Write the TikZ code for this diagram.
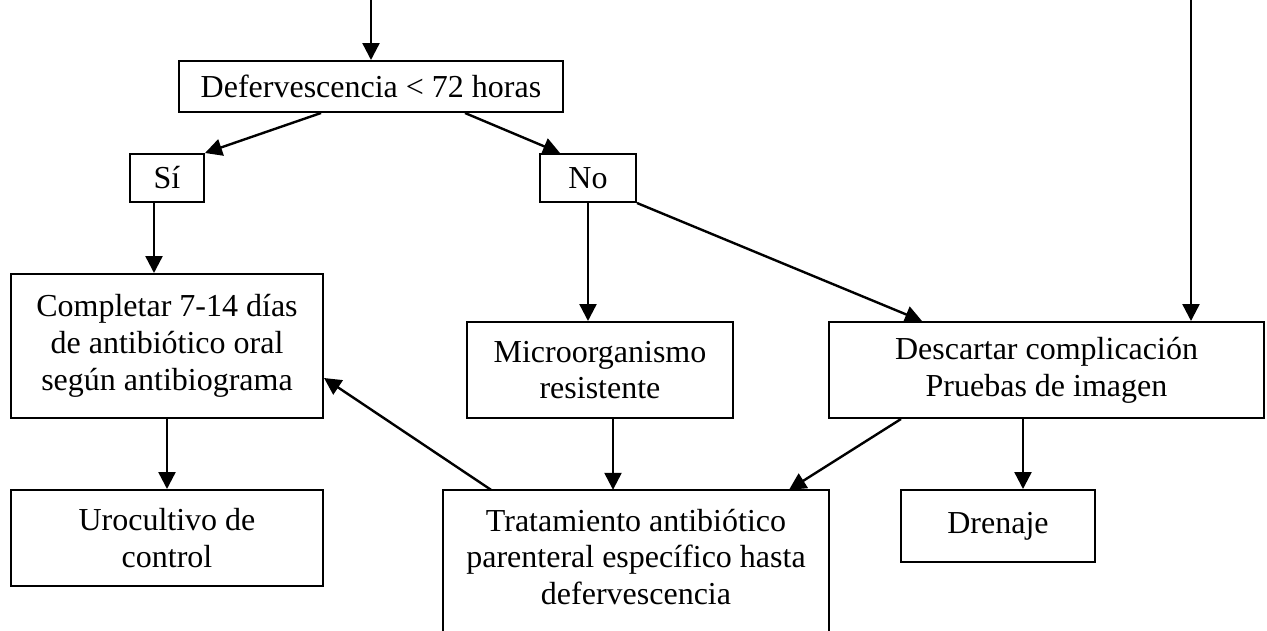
\documentclass[tikz,border=0pt]{standalone}
\usepackage{fontspec}
\setmainfont{Liberation Serif}
\usepackage{tikz}
\usetikzlibrary{arrows.meta,positioning}

\begin{document}
\begin{tikzpicture}[x=1pt,y=-1pt,
    font=\fontsize{32}{36.8}\selectfont,
    box/.style={draw,line width=2pt,inner sep=0pt,align=center},
    arr/.style={-{Triangle[length=17pt,width=17pt]},line width=2.4pt}]
        \useasboundingbox (0,0) rectangle (1267,630);
        \coordinate (inl) at (371,0);
        \coordinate (inr) at (1191,0);
        \node[box,minimum width=384pt,minimum height=51pt] (def) at (371,86.5) {Defervescencia < 72 horas};
        \node[box,minimum width=74pt,minimum height=48pt] (si) at (167,178) {Sí};
        \node[box,minimum width=96pt,minimum height=48pt] (no) at (588,178) {No};
        \node[box,minimum width=312pt,minimum height=144pt] (comp) at (167,346) {Completar 7-14 días\\de antibiótico oral\\según antibiograma};
        \node[box,minimum width=312pt,minimum height=96pt] (uro) at (167,538) {Urocultivo de\\control};
        \node[box,minimum width=266pt,minimum height=96pt] (micro) at (600,370) {Microorganismo\\resistente};
        \node[box,minimum width=435pt,minimum height=96pt] (desc) at (1046.5,370) {Descartar complicación\\Pruebas de imagen};
        \node[align=center,inner sep=0pt,minimum width=386pt,minimum height=134pt] (trat) at (636,557) {Tratamiento antibiótico\\parenteral específico hasta\\defervescencia};
        \draw[line width=2pt] (trat.south west) ++(0,60) |- (trat.north east) -- ++(0,200);
        \node[box,minimum width=194pt,minimum height=72pt] (dren) at (998,526) {Drenaje};
        \draw[arr] (inl)--(def.north);
        \draw[arr] (inr)--(inr |- desc.north);
        \draw[arr] ([xshift=-50pt]def.south)--(si.north east);
        \draw[arr] ([xshift=94pt]def.south)--([xshift=-28pt]no.north);
        \draw[arr] ([xshift=-13pt]si.south)--([xshift=-13pt]si.south |- comp.north);
        \draw[arr] (no.south)--(no.south |- micro.north);
        \draw[arr] (no.south east)--([xshift=-124.5pt]desc.north);
        \draw[arr] (comp.south)--(uro.north);
        \draw[arr] ([xshift=13pt]micro.south)--([xshift=13pt]micro.south |- trat.north);
        \draw[arr] ([xshift=-145.5pt]desc.south)--([xshift=153pt]trat.north);
        \draw[arr] ([xshift=25pt]dren.north |- desc.south)--([xshift=25pt]dren.north);
        \draw[arr] ([xshift=-145pt]trat.north)--([yshift=-32pt]comp.east);
      \end{tikzpicture}
\end{document}
